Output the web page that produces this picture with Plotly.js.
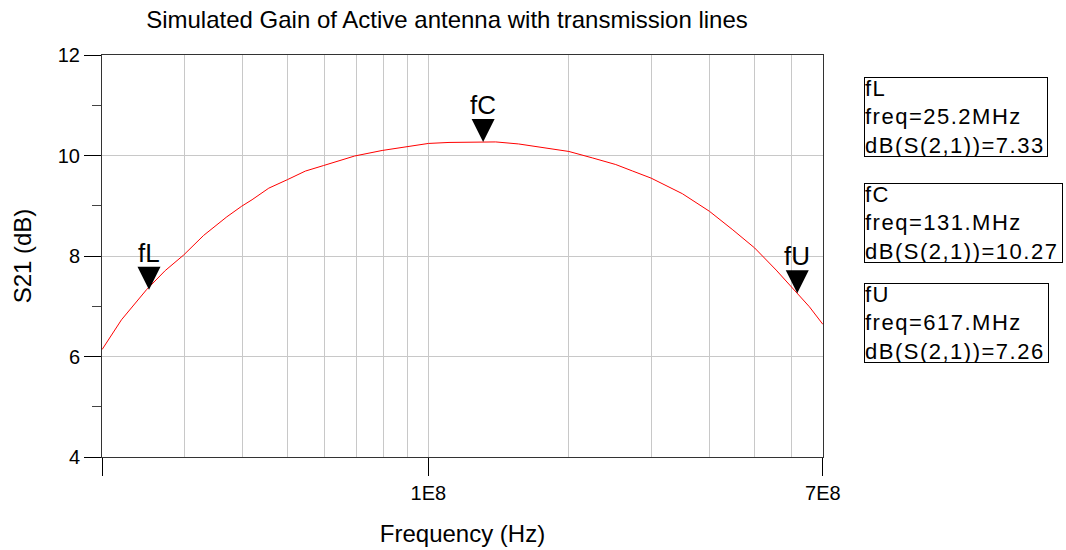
<!DOCTYPE html>
<html>
<head>
<meta charset="utf-8">
<script src="https://cdn.plot.ly/plotly-3.0.1.min.js"></script>
<style>
html,body{margin:0;padding:0;background:#fff;}
#chart{width:1066px;height:550px;}
g.annotation[data-index="3"] text, g.annotation[data-index="4"] text, g.annotation[data-index="5"] text{letter-spacing:1.5px;}
</style>
</head>
<body>
<div id="chart"></div>
<script>
// ---- data ----
const freqHz = [2.0e7, 2.2e7, 2.49e7, 2.73e7, 2.99e7, 3.3e7, 3.7e7, 3.98e7, 4.19e7, 4.55e7, 4.99e7,
                5.45e7, 5.96e7, 6.53e7, 6.95e7, 7.96e7, 8.96e7, 1.0e8, 1.107e8, 1.31e8, 1.394e8,
                1.56e8, 1.73e8, 2.0e8, 2.25e8, 2.52e8, 2.74e8, 3.0e8, 3.5e8, 4.0e8, 4.49e8,
                5.0e8, 5.56e8, 6.17e8, 6.55e8, 7.0e8];
const gainDb = [6.14, 6.73, 7.33, 7.71, 8.02, 8.41, 8.78, 8.99, 9.12, 9.35, 9.52,
                9.69, 9.80, 9.92, 9.99, 10.10, 10.18, 10.24, 10.26, 10.27, 10.27,
                10.23, 10.17, 10.08, 9.95, 9.82, 9.69, 9.55, 9.24, 8.89, 8.52,
                8.16, 7.72, 7.26, 6.99, 6.64];

const markerNames = ['fL', 'fC', 'fU'];
const markerFreqHz = [25.2e6, 131e6, 617e6];
const markerGainDb = [7.33, 10.27, 7.26];
const markerFreqLabel = ['25.2MHz', '131.MHz', '617.MHz'];
const markerGainLabel = ['7.33', '10.27', '7.26'];

const xMajorTicks = [2e7, 1e8, 7e8];
const xMajorLabels = ['', '1E8', '7E8'];
const xMinorTicks = [3e7, 4e7, 5e7, 6e7, 7e7, 8e7, 9e7, 2e8, 3e8, 4e8, 5e8, 6e8];
const yMajorTicks = [4, 6, 8, 10, 12];
const yMinorTicks = [5, 7, 9, 11];

const chartTitle = 'Simulated Gain of Active antenna with transmission lines';
const xTitle = 'Frequency (Hz)';
const yTitle = 'S21 (dB)';

// ---- styling / layout ----
const FONT = 'Liberation Sans, Arial, Helvetica, sans-serif';
const GRID = '#c8c8c8';

const trace = {
  x: freqHz, y: gainDb, type: 'scatter', mode: 'lines',
  line: {color: '#ff0000', width: 1},
  hoverinfo: 'skip', showlegend: false
};

const annotations = [];
// marker triangles + labels
markerNames.forEach((name, i) => {
  annotations.push({
    xref: 'x', yref: 'y',
    x: Math.log10(markerFreqHz[i]), y: markerGainDb[i],
    text: name,
    showarrow: true, arrowhead: 2, arrowsize: 4.6, arrowwidth: 1, arrowcolor: '#000',
    ax: 0, ay: -37, standoff: 0,
    font: {family: FONT, size: 26, color: '#000'}
  });
});
// readout boxes
const boxTopsPx = [77, 183, 283];
const boxWidths = [182, 197, 183];
markerNames.forEach((name, i) => {
  annotations.push({
    xref: 'paper', yref: 'paper',
    x: (864 - 102) / 721, xanchor: 'left',
    y: (457 - boxTopsPx[i]) / 402, yanchor: 'top',
    text: name + '<br>freq=' + markerFreqLabel[i] + '<br>dB(S(2,1))=' + markerGainLabel[i],
    showarrow: false, align: 'left', valign: 'middle',
    width: boxWidths[i], height: 78,
    bordercolor: '#000', borderwidth: 1, borderpad: 0, bgcolor: '#fff',
    font: {family: FONT, size: 22, color: '#000'}
  });
});

const layout = {
  width: 1066, height: 550,
  margin: {l: 102, r: 243, t: 55, b: 93},
  paper_bgcolor: '#fff', plot_bgcolor: '#fff',
  font: {family: FONT, color: '#000'},
  title: {
    text: chartTitle, font: {family: FONT, size: 24, color: '#000'},
    xref: 'container', x: 447 / 1066, xanchor: 'center',
    yref: 'container', y: 1 - 20 / 550, yanchor: 'middle'
  },
  xaxis: {
    type: 'log',
    range: [Math.log10(2e7) - 0.0003, Math.log10(7e8) + 0.0003],
    tickmode: 'array', tickvals: xMajorTicks, ticktext: xMajorLabels,
    ticks: 'outside', ticklen: 18, tickwidth: 1, tickcolor: '#000',
    tickfont: {family: FONT, size: 20, color: '#000'},
    showgrid: true, gridcolor: GRID, gridwidth: 1,
    minor: {tickmode: 'array', tickvals: xMinorTicks, ticks: '', showgrid: true, gridcolor: GRID, gridwidth: 1},
    showline: true, linecolor: '#333', linewidth: 1, mirror: true,
    zeroline: false,
    title: {text: xTitle, font: {family: FONT, size: 24, color: '#000'}, standoff: 22},
    automargin: false
  },
  yaxis: {
    range: [4, 12],
    tickmode: 'array', tickvals: yMajorTicks,
    ticks: 'outside', ticklen: 17, tickwidth: 1, tickcolor: '#000',
    tickfont: {family: FONT, size: 20, color: '#000'},
    showgrid: true, gridcolor: GRID, gridwidth: 1,
    minor: {tickmode: 'array', tickvals: yMinorTicks, ticks: 'outside', ticklen: 9, tickcolor: '#444', showgrid: false},
    showline: true, linecolor: '#333', linewidth: 1, mirror: true,
    zeroline: false,
    title: {text: yTitle, font: {family: FONT, size: 24, color: '#000'}, standoff: 19},
    automargin: false
  },
  annotations: annotations
};

Plotly.newPlot('chart', [trace], layout, {displayModeBar: false, staticPlot: true});
</script>
</body>
</html>
